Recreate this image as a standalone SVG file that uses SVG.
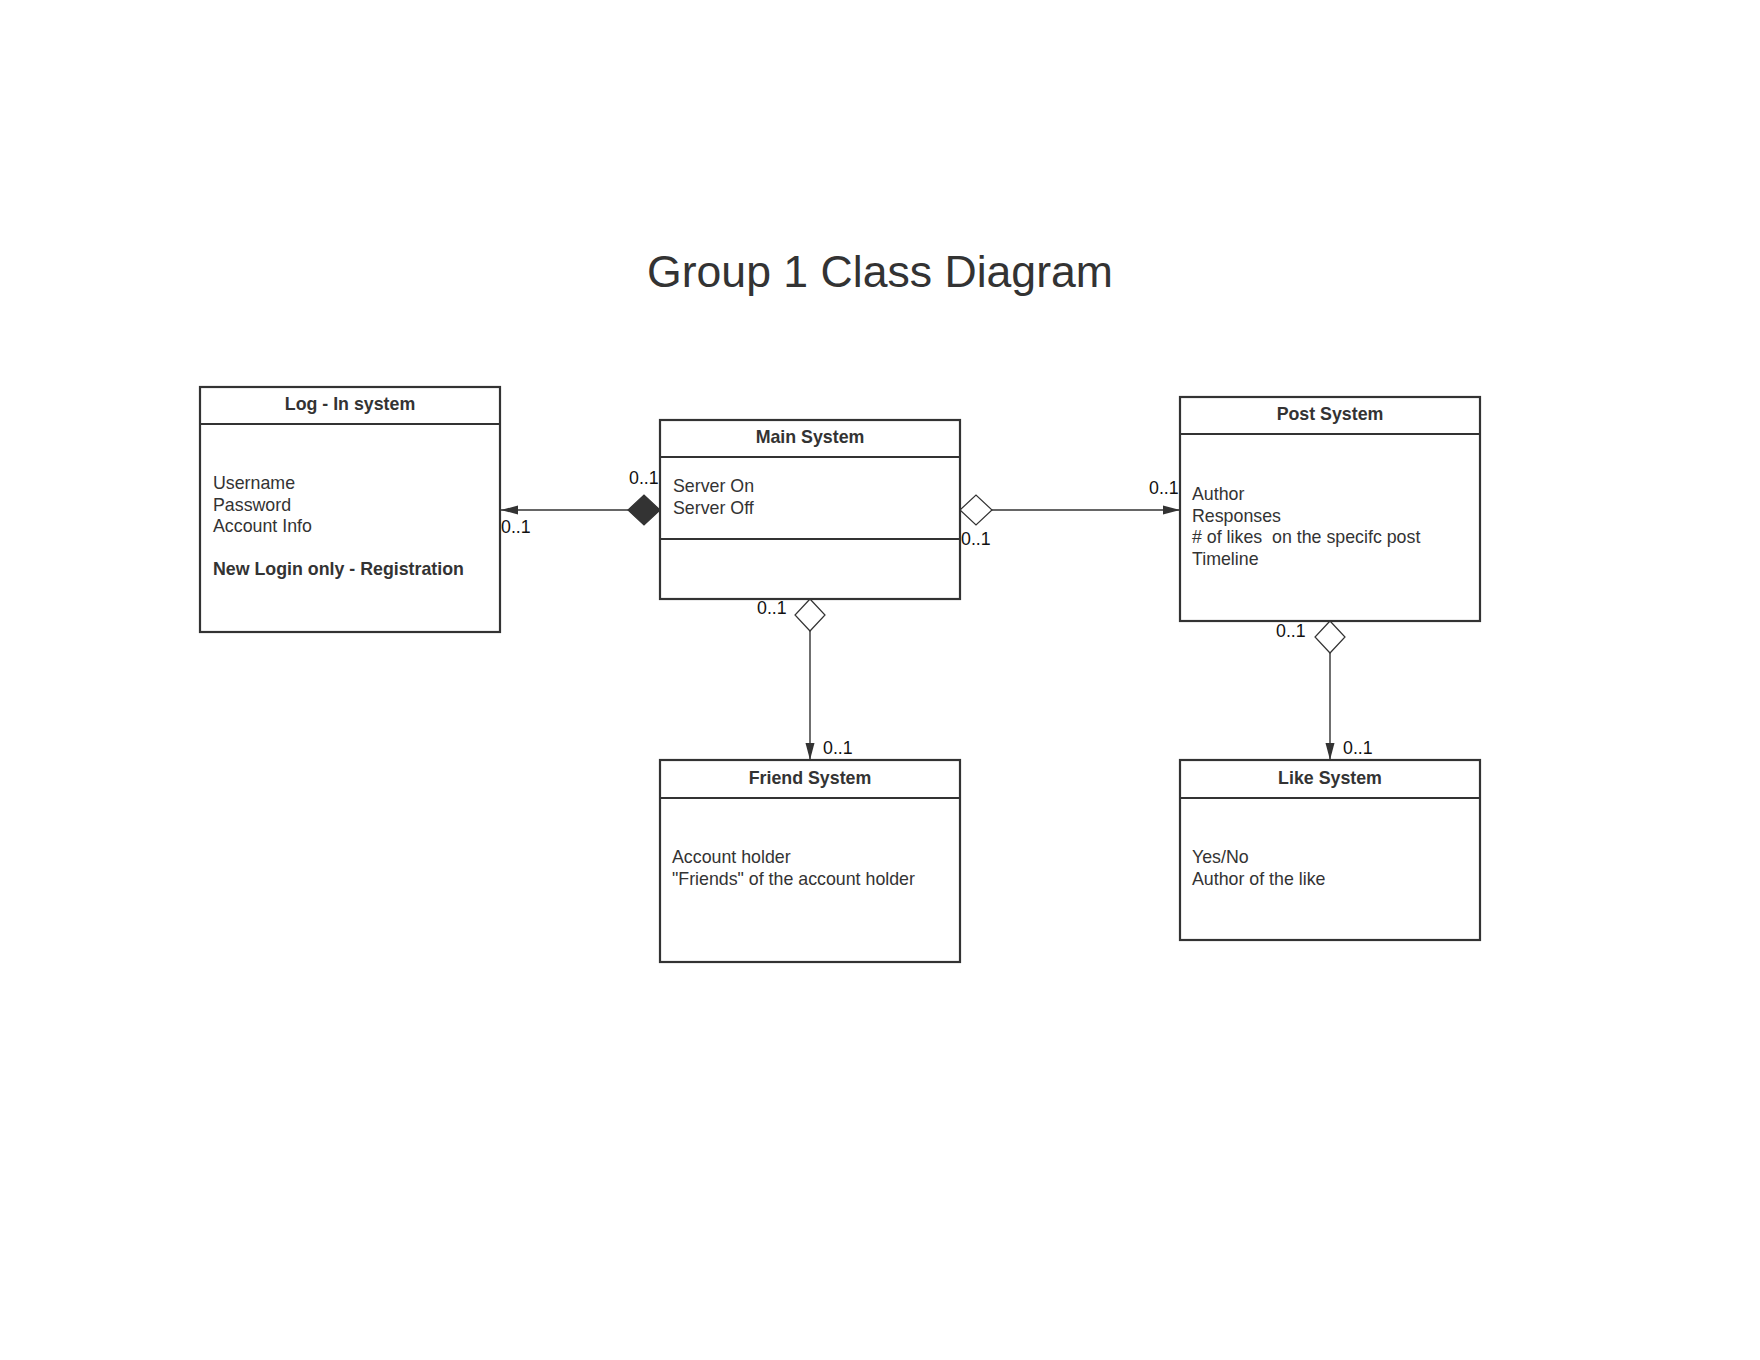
<svg xmlns="http://www.w3.org/2000/svg" width="1760" height="1360" viewBox="0 0 1760 1360">
<style>
.box{fill:#fff;stroke:#333;stroke-width:2.2}
.sep{stroke:#333;stroke-width:2.2}
.hdr{font-family:"Liberation Sans",Arial,sans-serif;font-size:17.8px;font-weight:bold;fill:#333;text-anchor:middle}
.txt{font-family:"Liberation Sans",Arial,sans-serif;font-size:17.8px;fill:#333;white-space:pre}
.b{font-weight:bold}
.lbl{font-family:"Liberation Sans",Arial,sans-serif;font-size:17.8px;fill:#111}
.conn{fill:none;stroke:#333;stroke-width:1.4}
.title{font-family:"Liberation Sans",Arial,sans-serif;font-size:44.6px;fill:#333;text-anchor:middle}
</style>
<defs>
<marker id="arrow" markerUnits="userSpaceOnUse" markerWidth="18" markerHeight="10" refX="17" refY="4.5" orient="auto" overflow="visible">
<path d="M0,0 L17,4.5 L0,9 Z" fill="#333"/>
</marker>
<marker id="dfill" markerUnits="userSpaceOnUse" markerWidth="33" markerHeight="31" refX="0" refY="15" orient="auto" overflow="visible">
<path d="M0,15 L16,0 L32,15 L16,30 Z" fill="#333" stroke="#333" stroke-width="1.2"/>
</marker>
<marker id="dopen" markerUnits="userSpaceOnUse" markerWidth="33" markerHeight="31" refX="0" refY="15" orient="auto" overflow="visible">
<path d="M0,15 L16,0 L32,15 L16,30 Z" fill="#fff" stroke="#333" stroke-width="1.2"/>
</marker>
</defs>
<rect width="1760" height="1360" fill="#fff"/>
<text class="title" x="880" y="287">Group 1 Class Diagram</text>

<g id="connectors">
<path class="conn" d="M660,510 L501,510" marker-start="url(#dfill)" marker-end="url(#arrow)"/>
<path class="conn" d="M960,510 L1180,510" marker-start="url(#dopen)" marker-end="url(#arrow)"/>
<path class="conn" d="M810,599 L810,760" marker-start="url(#dopen)" marker-end="url(#arrow)"/>
<path class="conn" d="M1330,621 L1330,760" marker-start="url(#dopen)" marker-end="url(#arrow)"/>
<text class="lbl" x="629" y="484">0..1</text>
<text class="lbl" x="501" y="533">0..1</text>
<text class="lbl" x="961" y="545">0..1</text>
<text class="lbl" x="1149" y="494">0..1</text>
<text class="lbl" x="757" y="614">0..1</text>
<text class="lbl" x="823" y="754">0..1</text>
<text class="lbl" x="1276" y="637">0..1</text>
<text class="lbl" x="1343" y="754">0..1</text>
</g>

<g id="login">
<rect class="box" x="200" y="387" width="300" height="245"/>
<line class="sep" x1="200" y1="424" x2="500" y2="424"/>
<text class="hdr" x="350" y="410">Log - In system</text>
<text class="txt" x="213" y="489">Username</text>
<text class="txt" x="213" y="510.5">Password</text>
<text class="txt" x="213" y="532">Account Info</text>
<text class="txt b" x="213" y="575">New Login only - Registration</text>
</g>

<g id="main">
<rect class="box" x="660" y="420" width="300" height="179"/>
<line class="sep" x1="660" y1="457" x2="960" y2="457"/>
<line class="sep" x1="660" y1="539" x2="960" y2="539"/>
<text class="hdr" x="810" y="443">Main System</text>
<text class="txt" x="673" y="492">Server On</text>
<text class="txt" x="673" y="514">Server Off</text>
</g>

<g id="post">
<rect class="box" x="1180" y="397" width="300" height="224"/>
<line class="sep" x1="1180" y1="434" x2="1480" y2="434"/>
<text class="hdr" x="1330" y="420">Post System</text>
<text class="txt" x="1192" y="500">Author</text>
<text class="txt" x="1192" y="521.5">Responses</text>
<text class="txt" x="1192" y="543" xml:space="preserve"># of likes  on the specifc post</text>
<text class="txt" x="1192" y="564.5">Timeline</text>
</g>

<g id="friend">
<rect class="box" x="660" y="760" width="300" height="202"/>
<line class="sep" x1="660" y1="798" x2="960" y2="798"/>
<text class="hdr" x="810" y="784">Friend System</text>
<text class="txt" x="672" y="863">Account holder</text>
<text class="txt" x="672" y="884.5">"Friends" of the account holder</text>
</g>

<g id="like">
<rect class="box" x="1180" y="760" width="300" height="180"/>
<line class="sep" x1="1180" y1="798" x2="1480" y2="798"/>
<text class="hdr" x="1330" y="784">Like System</text>
<text class="txt" x="1192" y="863">Yes/No</text>
<text class="txt" x="1192" y="884.5">Author of the like</text>
</g>
</svg>
